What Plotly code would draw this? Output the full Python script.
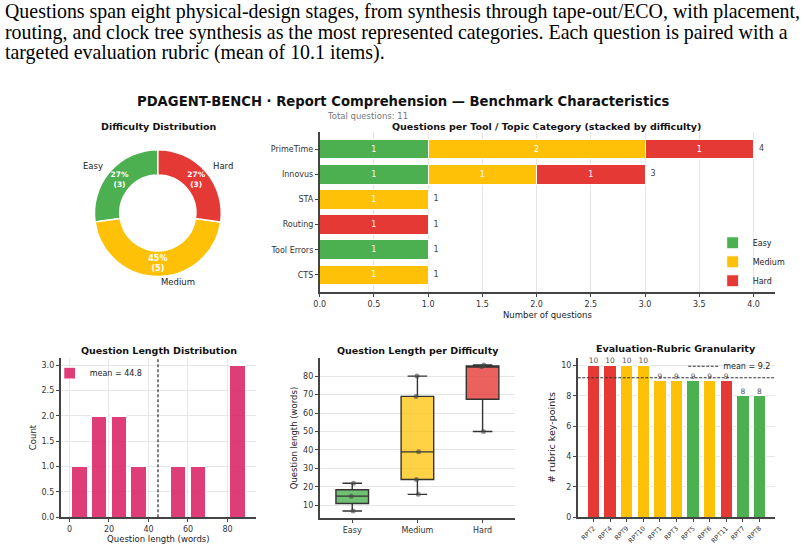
import plotly.graph_objects as go
import numpy as np

W, H = 806, 550

# ---------------- data ----------------
intro_lines = [
    "Questions span eight physical-design stages, from synthesis through tape-out/ECO, with placement,",
    "routing, and clock tree synthesis as the most represented categories. Each question is paired with a",
    "targeted evaluation rubric (mean of 10.1 items).",
]
difficulties = ["Easy", "Medium", "Hard"]
difficulty_counts = [3, 5, 3]

tools = ["PrimeTime", "Innovus", "STA", "Routing", "Tool Errors", "CTS"]
tool_easy = [1, 1, 0, 0, 1, 0]
tool_medium = [2, 1, 1, 0, 0, 1]
tool_hard = [1, 1, 0, 1, 0, 0]

len_easy = [7, 15, 22]
len_medium = [16, 24, 39, 69, 80]
len_hard = [50, 85, 86]

reports = ["RPT2", "RPT4", "RPT9", "RPT10", "RPT1", "RPT3", "RPT5", "RPT6", "RPT11", "RPT7", "RPT8"]
rubric_points = [10, 10, 10, 10, 9, 9, 9, 9, 9, 8, 8]
report_difficulty = ["Hard", "Hard", "Medium", "Medium", "Medium", "Medium", "Easy", "Medium", "Hard", "Easy", "Easy"]

# ---------------- styles ----------------
COL = {"Easy": "#4CAF50", "Medium": "#FFC107", "Hard": "#E53935"}
BOX_FILL = {"Easy": "rgba(76,175,80,0.8)", "Medium": "rgba(255,193,7,0.75)", "Hard": "rgba(229,57,53,0.8)"}
PINK = "rgba(216,27,96,0.85)"
FONT = "DejaVu Sans"
SPINE = "#444444"
GRID = "#e6e6e6"


def xd(a, b):
    return [a / W, b / W]


def yd(top, bot):
    return [1 - bot / H, 1 - top / H]


def px(x, y):
    return x / W, 1 - y / H


fig = go.Figure()

# ---------- donut ----------
# first slice starts at 12 o'clock and runs counter-clockwise
first_share = difficulty_counts[0] / sum(difficulty_counts)
fig.add_trace(go.Pie(
    labels=difficulties, values=difficulty_counts, hole=0.6, sort=False,
    direction="counterclockwise", rotation=-360 * first_share,
    marker=dict(colors=[COL[d] for d in difficulties], line=dict(color="white", width=1.5)),
    texttemplate="<b>%{percent:.0%}<br>(%{value})</b>", textposition="inside",
    insidetextorientation="horizontal",
    textfont=dict(family=FONT, size=8, color="white"),
    domain=dict(x=xd(89, 217), y=yd(151, 279)), showlegend=False, hoverinfo="skip",
))

# ---------- stacked horizontal bars ----------
for name, vals in zip(difficulties, [tool_easy, tool_medium, tool_hard]):
    fig.add_trace(go.Bar(
        y=tools, x=vals, orientation="h", name=name, width=0.78,
        marker=dict(color=COL[name], line=dict(color="white", width=1)),
        text=[str(v) if v else "" for v in vals], textposition="inside",
        insidetextanchor="middle", textangle=0,
        textfont=dict(family=FONT, size=8, color="white"),
        xaxis="x", yaxis="y", legend="legend",
    ))
totals = [a + b + c for a, b, c in zip(tool_easy, tool_medium, tool_hard)]
fig.add_trace(go.Scatter(
    x=[t + 0.05 for t in totals], y=tools, mode="text", text=[str(t) for t in totals],
    textposition="middle right", textfont=dict(family=FONT, size=8, color="#444"),
    showlegend=False, xaxis="x", yaxis="y", cliponaxis=False, hoverinfo="skip",
))

# ---------- histogram ----------
all_len = len_easy + len_medium + len_hard
mean_len = float(np.mean(all_len))
fig.add_trace(go.Histogram(
    x=all_len, xbins=dict(start=0, end=90, size=10), autobinx=False,
    marker=dict(color=PINK, line=dict(color="white", width=1.2)),
    name=f"mean = {mean_len:.1f}", xaxis="x2", yaxis="y2", legend="legend2",
))

# ---------- box plot ----------
for name, vals in zip(difficulties, [len_easy, len_medium, len_hard]):
    fig.add_trace(go.Box(
        y=vals, x=[name] * len(vals), name=name, quartilemethod="inclusive",
        fillcolor=BOX_FILL[name], line=dict(color="#333333", width=1.4),
        boxpoints="all", jitter=0.1, pointpos=0,
        marker=dict(color="rgba(70,70,70,0.6)", size=5),
        width=0.5, whiskerwidth=0.6,
        xaxis="x3", yaxis="y3", showlegend=False,
    ))

# ---------- rubric bars ----------
mean_rub = float(np.mean(rubric_points))
fig.add_trace(go.Bar(
    x=reports, y=rubric_points, width=0.75,
    marker=dict(color=[COL[d] for d in report_difficulty], line=dict(color="white", width=1)),
    xaxis="x4", yaxis="y4", showlegend=False,
))
fig.add_trace(go.Scatter(
    x=reports, y=rubric_points, mode="text", text=[str(v) for v in rubric_points],
    textposition="top center", textfont=dict(family=FONT, size=7.5, color="#555"),
    cliponaxis=False, xaxis="x4", yaxis="y4", showlegend=False, hoverinfo="skip",
))

axis_common = dict(showline=True, linecolor=SPINE, linewidth=1.5, ticks="outside", ticklen=3,
                   tickcolor=SPINE, tickfont=dict(family=FONT, size=8, color="#333"),
                   zeroline=False, gridcolor=GRID)

fig.update_layout(
    width=W, height=H, margin=dict(l=0, r=0, t=0, b=0),
    paper_bgcolor="white", plot_bgcolor="white",
    font=dict(family=FONT, color="#222"),
    barmode="stack", bargap=0.2,
    xaxis=dict(domain=xd(316, 775), range=[0, 4.2], dtick=0.5, tickformat=".1f", showgrid=True,
               title=dict(text="Number of questions", font=dict(size=8.5), standoff=4), anchor="y", **axis_common),
    yaxis=dict(domain=yd(133, 295), type="category", categoryorder="array", categoryarray=tools,
               range=[5.69, -0.69], showgrid=False, anchor="x", **axis_common),
    xaxis2=dict(domain=xd(55, 252), range=[-4.5, 94.5], dtick=20, showgrid=True, anchor="y2",
                title=dict(text="Question length (words)", font=dict(size=8.5), standoff=2), **axis_common),
    yaxis2=dict(domain=yd(361, 522), range=[0, 3.15], dtick=0.5, tickformat=".1f", showgrid=True, anchor="x2",
                title=dict(text="Count", font=dict(size=8.5), standoff=4), **axis_common),
    xaxis3=dict(domain=xd(316, 513), type="category", range=[-0.5, 2.5], showgrid=False, anchor="y3",
                **axis_common),
    yaxis3=dict(domain=yd(361, 523), range=[3.05, 89.95], dtick=10, showgrid=True, anchor="x3",
                title=dict(text="Question length (words)", font=dict(size=8.5), standoff=4), **axis_common),
    xaxis4=dict(domain=xd(576, 775), type="category", range=[-0.95, 10.95], showgrid=False, anchor="y4",
                tickangle=-45, **{k: v for k, v in axis_common.items() if k != "tickfont"},
                tickfont=dict(family=FONT, size=6.5, color="#333")),
    yaxis4=dict(domain=yd(361, 522), range=[0, 10.5], dtick=2, showgrid=True, anchor="x4",
                title=dict(text="# rubric key-points", font=dict(size=9.5), standoff=4), **axis_common),
    legend=dict(x=712 / W, y=1 - 298 / H, xanchor="left", yanchor="bottom", bgcolor="rgba(255,255,255,0)",
                font=dict(family=FONT, size=8), traceorder="normal", tracegroupgap=0, itemwidth=30),
    legend2=dict(x=44 / W, y=1 - 362 / H, xanchor="left", yanchor="top", bgcolor="rgba(255,255,255,0)",
                 font=dict(family=FONT, size=8), itemwidth=30),
    legend3=dict(x=776 / W, y=1 - 355 / H, xanchor="right", yanchor="top", bgcolor="rgba(255,255,255,0)",
                 font=dict(family=FONT, size=8), itemwidth=30),
)

# mean lines
fig.add_shape(type="line", xref="x2", yref="y2 domain", x0=mean_len, x1=mean_len, y0=0, y1=1,
              line=dict(color="black", width=1, dash="3px,2px"))
fig.add_shape(type="line", xref="x4 domain", yref="y4", x0=0, x1=1, y0=mean_rub, y1=mean_rub,
              line=dict(color="#333", width=1.2, dash="3px,1.5px"), showlegend=True,
              name=f"mean = {mean_rub:.1f}", legend="legend3")

ann = []
# intro text
for i, line in enumerate(intro_lines):
    x, y = px(-3, 12 + 20.5 * i)
    ann.append(dict(x=x, y=y, xref="paper", yref="paper", xanchor="left", yanchor="middle",
                    text=line, showarrow=False,
                    font=dict(family="Liberation Serif", size=19.9, color="black")))
# titles
titles = [
    ("<b>PDAGENT-BENCH · Report Comprehension — Benchmark Characteristics</b>", 400, 102, 13.2, "#111"),
    ("Total questions: 11", 364, 117, 8.5, "#777"),
    ("<b>Difficulty Distribution</b>", 154, 128, 9.5, "#111"),
    ("<b>Questions per Tool / Topic Category (stacked by difficulty)</b>", 545, 128, 9.5, "#111"),
    ("<b>Question Length Distribution</b>", 154, 354, 9.5, "#111"),
    ("<b>Question Length per Difficulty</b>", 415, 354, 9.5, "#111"),
    ("<b>Evaluation-Rubric Granularity</b>", 675, 352, 9.5, "#111"),
]
for text, x0, y0, size, color in titles:
    x, y = px(x0, y0)
    ann.append(dict(x=x, y=y, xref="paper", yref="paper", xanchor="center", yanchor="middle",
                    text=text, showarrow=False, font=dict(family=FONT, size=size, color=color)))
# donut outer labels
for text, x0, y0, anchor in [("Easy", 100, 168, "right"), ("Hard", 207, 168, "left"), ("Medium", 154, 285, "left")]:
    x, y = px(x0, y0)
    ann.append(dict(x=x, y=y, xref="paper", yref="paper", xanchor=anchor, yanchor="middle",
                    text=text, showarrow=False, font=dict(family=FONT, size=8.5, color="#222")))
fig.update_layout(annotations=ann)

fig.write_html("out.html")
